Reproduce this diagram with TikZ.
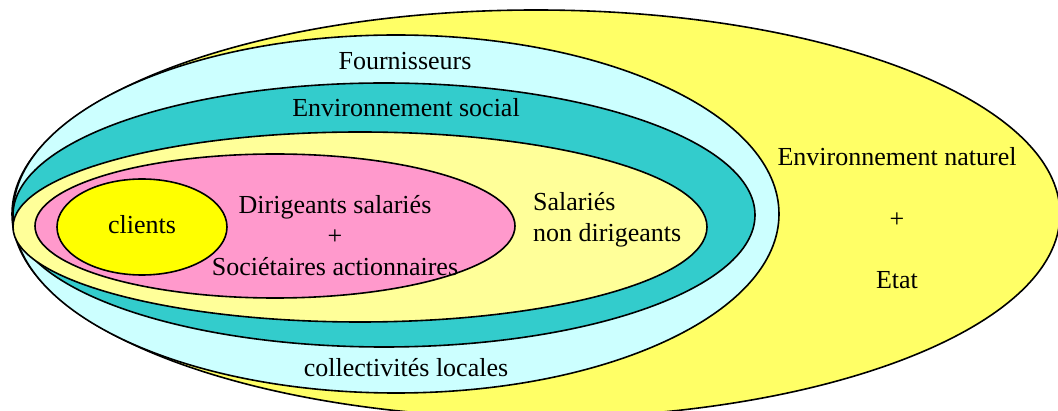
\documentclass[tikz,border=0pt]{standalone}
\usepackage{fontspec}
\setmainfont{Liberation Serif}
\definecolor{outerY}{HTML}{FFFF66}
\definecolor{fourn}{HTML}{CCFFFF}
\definecolor{social}{HTML}{33CCCC}
\definecolor{salar}{HTML}{FFFF99}
\definecolor{dirig}{HTML}{FF99CC}
\definecolor{cli}{HTML}{FFFF00}
\begin{document}
\begin{tikzpicture}[x=1pt,y=-1pt,
  ring/.style={draw=black, line width=1.6pt},
  lbl/.style={font=\fontsize{26}{31}\selectfont, inner sep=0pt, align=center, text=black}]
\clip (0,0) rectangle (1058,411);
\fill[white] (0,0) rectangle (1058,411);
\draw[ring, fill=outerY] (536,214) ellipse [x radius=524, y radius=204];
\draw[ring, fill=fourn] (396,214) ellipse [x radius=383, y radius=179];
\draw[ring, fill=social] (384,215) ellipse [x radius=371, y radius=132];
\draw[ring, fill=salar] (360,227) ellipse [x radius=347, y radius=95];
\draw[ring, fill=dirig] (275,226) ellipse [x radius=240, y radius=72];
\draw[ring, fill=cli] (142,227) ellipse [x radius=85, y radius=48];
\node[lbl] (fourn) at (405,61) {Fournisseurs};
\node[lbl] (social) at (406,108) {Environnement social};
\node[lbl] (nat) at (897,157) {Environnement naturel};
\node[lbl] (plusR) at (897,220) {+};
\node[lbl] (etat) at (897,280) {Etat};
\node[lbl] (clients) at (142,225) {clients};
\node[lbl] (dirig) at (335,236) {Dirigeants salariés\\+\\Sociétaires actionnaires};
\node[lbl, anchor=west, align=left] (salar) at (533,220) {Salariés\\non dirigeants};
\node[lbl] (coll) at (406,368) {collectivités locales};
\end{tikzpicture}
\end{document}
